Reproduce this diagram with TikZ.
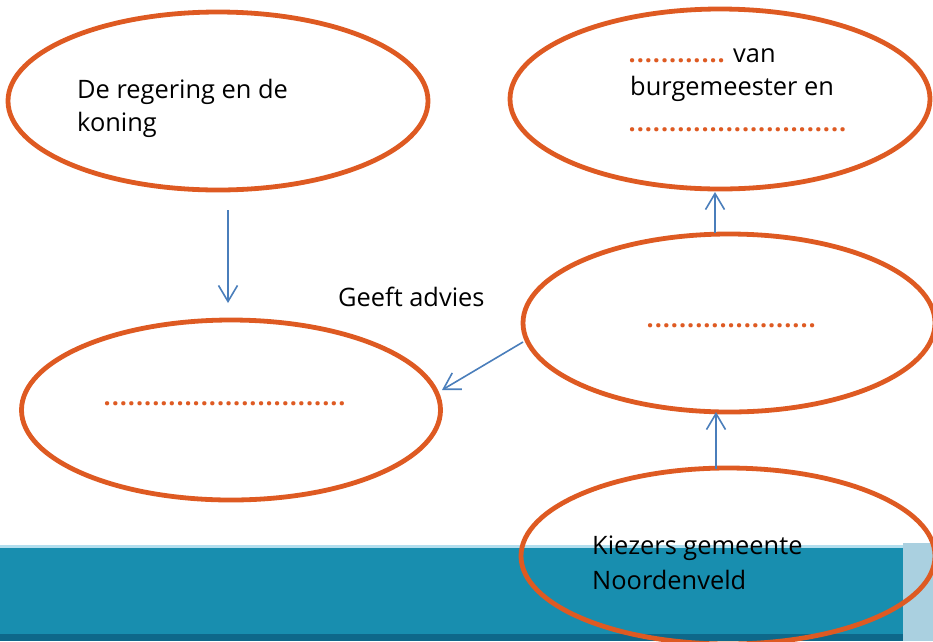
\documentclass[tikz,border=0pt]{standalone}
\usepackage{fontspec}
\setmainfont{Open Sans}
\usetikzlibrary{shapes.geometric,arrows.meta}
\definecolor{ora}{RGB}{222,90,34}
\definecolor{arblue}{RGB}{74,126,187}
\definecolor{bar}{RGB}{24,142,175}
\definecolor{bardark}{RGB}{14,104,138}
\definecolor{barlight}{RGB}{170,208,224}
\definecolor{barline}{RGB}{178,222,238}
\newcommand\dotrow[1]{\textcolor{ora}{\bfseries\count255=0 \loop\makebox[8.1pt][c]{.}\advance\count255 by 1 \ifnum\count255<#1\repeat}}
\begin{document}
\begin{tikzpicture}[x=1pt,y=-1pt,
  oval/.style={draw=ora,line width=4.8pt,ellipse,inner sep=0pt},
  arr/.style={draw=arblue,line width=1.6pt,-{Straight Barb[length=16pt,width=19pt,line width=1.6pt]}},
  lbl/.style={anchor=base west,inner sep=0pt,font=\fontsize{25.4}{33}\selectfont},
  dots/.style={anchor=base west,inner sep=0pt,font=\fontsize{25}{33}\selectfont}]
\useasboundingbox (0,0) rectangle (933,641);
% bottom band
\fill[bar] (0,546) rectangle (903,641);
\fill[barline] (0,545) rectangle (903,547.5);
\fill[bardark] (0,634) rectangle (903,641);
\fill[barlight] (903,543) rectangle (933,641);
% ellipses
\node[oval,fill=white,minimum width=420pt,minimum height=178pt] (e1) at (218,101) {};
\node[oval,fill=white,minimum width=420pt,minimum height=180pt] (e2) at (720,99) {};
\node[oval,fill=white,minimum width=412pt,minimum height=178pt] (e3) at (729,323) {};
\node[oval,fill=white,minimum width=419pt,minimum height=180pt] (e4) at (231,410) {};
\node[oval,minimum width=414pt,minimum height=176pt] (e5) at (728,556) {};
% texts
\node[lbl] (t1) at (77,98) {De regering en de};
\node[lbl] (t2) at (77,131) {koning};
\node[dots] (d1) at (628,62) {\dotrow{12}};
\node[lbl] (t3) at (733,62) {van};
\node[lbl] (t4) at (630,95) {burgemeester en};
\node[dots] (d2) at (628,131) {\dotrow{27}};
\node[dots] (d3) at (646,327) {\dotrow{21}};
\node[dots] (d4) at (103,405) {\dotrow{30}};
\node[lbl] (t5) at (338,306) {Geeft advies};
\node[lbl] (t6) at (592,554) {Kiezers gemeente};
\node[lbl] (t7) at (592,589) {Noordenveld};
% connector ends
\coordinate (a1s) at (228,210);
\coordinate (a1e) at (228,303);
\coordinate (a2s) at (523,342);
\coordinate (a2e) at (442,390);
\coordinate (a3s) at (715,233);
\coordinate (a3e) at (715,192);
\coordinate (a4s) at (716,469);
\coordinate (a4e) at (716,412);
\draw[arr] (a1s) -- (a1e);
\draw[arr] (a2s) -- (a2e);
\draw[arr] (a3s) -- (a3e);
\draw[arr] (a4s) -- (a4e);
\end{tikzpicture}
\end{document}
